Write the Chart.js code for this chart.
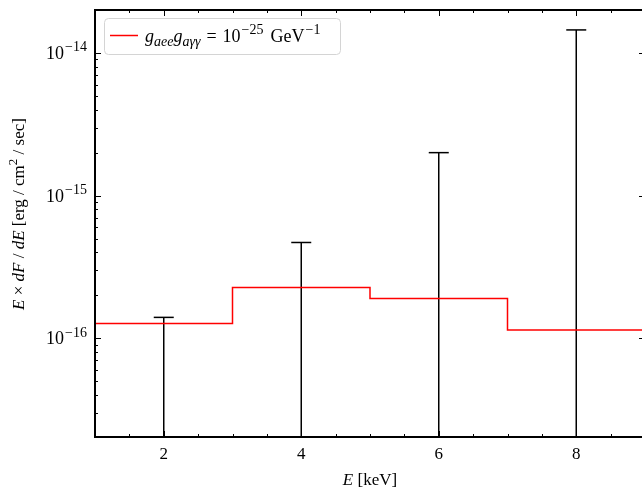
<!DOCTYPE html>
<html>
<head>
<meta charset="utf-8">
<script src="https://cdn.jsdelivr.net/npm/chart.js@4.4.1/dist/chart.umd.min.js"></script>
<style>
  html, body { margin: 0; padding: 0; background: #fff; overflow: hidden; }
  canvas { display: block; }
</style>
</head>
<body>
<canvas id="spec" width="648" height="492" style="width:648px;height:492px"></canvas>
<script>
// model spectrum (step), bin edges in keV
const binEdges = [1, 3, 5, 7, 9];
const modelFlux = [1.27e-16, 2.27e-16, 1.90e-16, 1.14e-16];

// data points: upper limits drawn as bars from the bottom
const dataE = [2, 4, 6, 8];
const upperLimits = [1.40e-16, 4.69e-16, 2.0e-15, 1.45e-14];

const xTicks = [2, 4, 6, 8];
const yTickExp = [-16, -15, -14];

const X_MIN = 1, X_MAX = 9;
const Y_MIN = 2.03e-17, Y_MAX = 2.0e-14;

const SERIF = '"Liberation Serif", "DejaVu Serif", serif';

// step line points (hold last value to the right edge)
const stepPts = binEdges.map((e, i) => ({ x: e, y: modelFlux[Math.min(i, modelFlux.length - 1)] }));

// error bars: bottom (off-axis) -> top with cap, then a gap
const barPts = [];
dataE.forEach((e, i) => {
  barPts.push({ x: e, y: 1e-18 });
  barPts.push({ x: e, y: upperLimits[i], cap: true });
  barPts.push({ x: e, y: null });
});

// rich text: [text, style] pieces; style '' roman, 'i' italic, 'sup', 'isub', 'gap' (text = px)
function fontFor(s, size) {
  const small = Math.round(size * 0.75);
  if (s === 'i') return `italic ${size}px ${SERIF}`;
  if (s === 'sup' || s === 'sub') return `${small}px ${SERIF}`;
  if (s === 'isub') return `italic ${small}px ${SERIF}`;
  return `${size}px ${SERIF}`;
}
function partWidth(ctx, t, s, size) {
  if (s === 'gap') return t;
  ctx.font = fontFor(s, size);
  return ctx.measureText(t).width;
}
function richWidth(ctx, parts, size) {
  return parts.reduce((w, [t, s]) => w + partWidth(ctx, t, s, size), 0);
}
function drawRich(ctx, parts, x, y, size) {
  parts.forEach(([t, s]) => {
    if (s !== 'gap') {
      ctx.font = fontFor(s, size);
      let dy = 0;
      if (s === 'sup') dy = -size * 0.42;
      if (s === 'sub' || s === 'isub') dy = size * 0.22;
      ctx.fillText(t, x, y + dy);
    }
    x += partWidth(ctx, t, s, size);
  });
  return x;
}

const frame = {
  id: 'frame',
  afterDraw(chart) {
    const { ctx, chartArea: a, scales: { x, y } } = chart;
    ctx.save();
    ctx.strokeStyle = '#000';
    ctx.fillStyle = '#000';

    // inward ticks on all four sides
    ctx.lineWidth = 1;
    ctx.beginPath();
    for (let v = X_MIN; v <= X_MAX + 1e-9; v += 0.5) {
      const px = Math.round(x.getPixelForValue(v)) + 0.5;
      const len = xTicks.includes(v) ? 6 : 3;
      ctx.moveTo(px, a.bottom); ctx.lineTo(px, a.bottom - len);
      ctx.moveTo(px, a.top); ctx.lineTo(px, a.top + len);
    }
    for (let k = -17; k <= -14; k++) {
      for (let m = 1; m <= 9; m++) {
        const v = m * Math.pow(10, k);
        if (v < Y_MIN || v > Y_MAX) continue;
        const py = Math.round(y.getPixelForValue(v)) + 0.5;
        const len = m === 1 ? 6 : 3;
        ctx.moveTo(a.left, py); ctx.lineTo(a.left + len, py);
        ctx.moveTo(a.right, py); ctx.lineTo(a.right - len, py);
      }
    }
    ctx.stroke();

    // spines
    ctx.lineWidth = 2;
    ctx.strokeRect(a.left, a.top, a.right - a.left, a.bottom - a.top);

    // x tick labels
    ctx.textBaseline = 'alphabetic';
    ctx.textAlign = 'center';
    ctx.font = `17px ${SERIF}`;
    xTicks.forEach(v => ctx.fillText(String(v), x.getPixelForValue(v), a.bottom + 22));

    // y tick labels 10^k
    ctx.textAlign = 'left';
    yTickExp.forEach(k => {
      const py = y.getPixelForValue(Math.pow(10, k));
      const parts = [['10', ''], [1, 'gap'], ['\u2212' + Math.abs(k), 'sup']];
      const w = richWidth(ctx, parts, 18);
      drawRich(ctx, parts, a.left - 8 - w, py + 6, 18);
    });

    // x axis title
    const xt = [['E', 'i'], [' [keV]', '']];
    const xw = richWidth(ctx, xt, 17);
    drawRich(ctx, xt, (a.left + a.right) / 2 - xw / 2, 485, 17);

    // y axis title
    const yt = [['E', 'i'], [' \u00d7 ', ''], ['dF', 'i'], [' / ', ''], ['dE', 'i'],
                [' [erg / cm', ''], ['2', 'sup'], [' / sec]', '']];
    const yw = richWidth(ctx, yt, 17);
    ctx.save();
    ctx.translate(24, 214);
    ctx.rotate(-Math.PI / 2);
    drawRich(ctx, yt, -yw / 2, 0, 17);
    ctx.restore();

    // legend
    const lx = 104, ly = 18, lw = 236, lh = 36;
    ctx.beginPath();
    ctx.roundRect(lx + 0.5, ly + 0.5, lw, lh, 4);
    ctx.fillStyle = 'rgba(255,255,255,0.85)';
    ctx.fill();
    ctx.strokeStyle = '#d4d4d4';
    ctx.lineWidth = 1;
    ctx.stroke();
    ctx.strokeStyle = '#ff0000';
    ctx.lineWidth = 1.5;
    ctx.beginPath();
    ctx.moveTo(110, 35.5); ctx.lineTo(138, 35.5);
    ctx.stroke();
    ctx.fillStyle = '#000';
    const lt = [['g', 'i'], ['aee', 'isub'], ['g', 'i'], ['a\u03b3\u03b3', 'isub'],
                [6, 'gap'], ['=', ''], [6, 'gap'], ['10', ''], [1, 'gap'], ['\u221225', 'sup'],
                [7, 'gap'], ['GeV', ''], [1, 'gap'], ['\u22121', 'sup']];
    drawRich(ctx, lt, 145, 42, 18);

    ctx.restore();
  }
};

new Chart(document.getElementById('spec'), {
  type: 'line',
  data: {
    datasets: [
      {
        label: 'upper limits',
        data: barPts,
        borderColor: '#000',
        borderWidth: 1.5,
        spanGaps: false,
        pointStyle: 'line',
        pointRadius: c => (c.raw && c.raw.cap ? 10 : 0),
        pointBorderWidth: 1.5,
        pointBorderColor: '#000',
        pointHoverRadius: 0,
        order: 2
      },
      {
        label: 'model',
        data: stepPts,
        borderColor: '#ff0000',
        borderWidth: 1.5,
        stepped: 'before',
        pointRadius: 0,
        order: 1
      }
    ]
  },
  options: {
    responsive: false,
    animation: false,
    devicePixelRatio: 1,
    layout: { padding: { left: 95, top: 10, right: 3, bottom: 55 } },
    plugins: { legend: { display: false }, tooltip: { enabled: false } },
    scales: {
      x: { type: 'linear', min: X_MIN, max: X_MAX, display: false },
      y: { type: 'logarithmic', min: Y_MIN, max: Y_MAX, display: false }
    }
  },
  plugins: [frame]
});
</script>
</body>
</html>
